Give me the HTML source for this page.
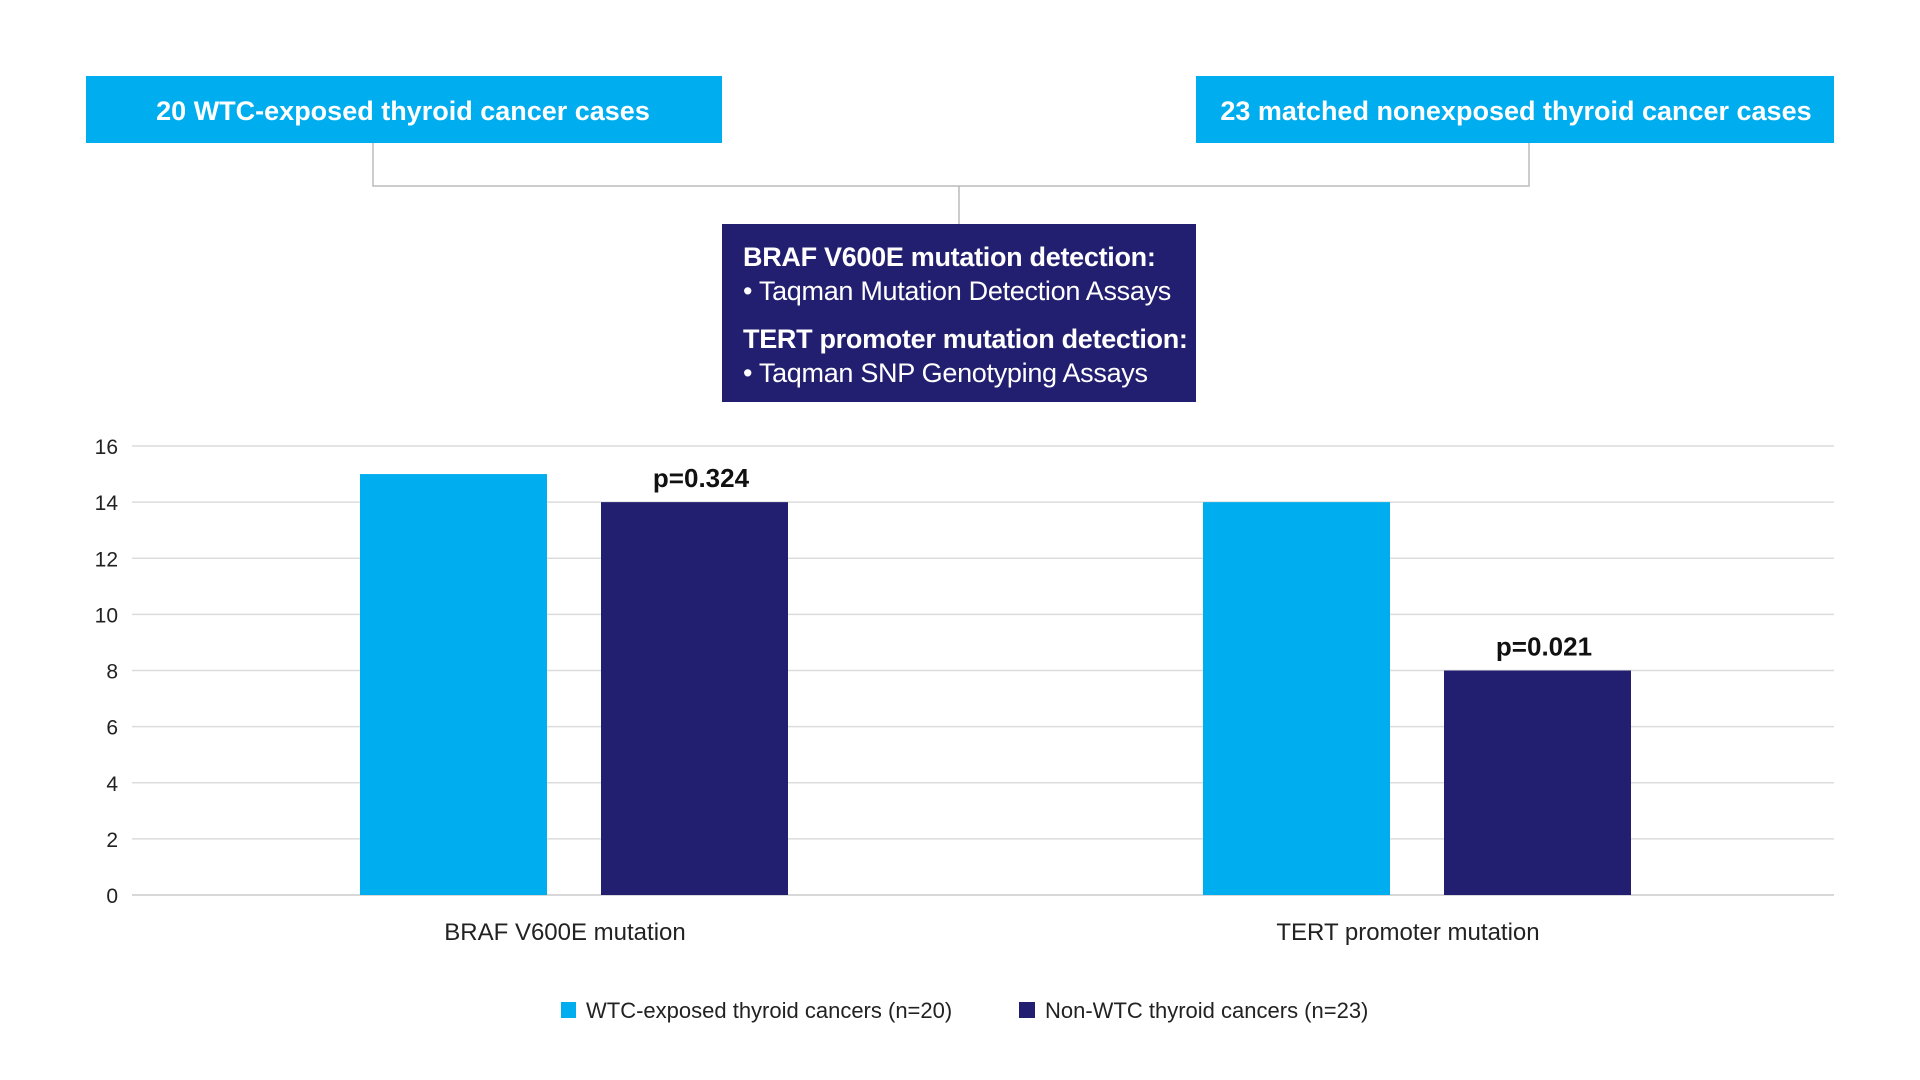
<!DOCTYPE html>
<html><head><meta charset="utf-8"><style>
html,body{margin:0;padding:0;background:#fff;}
svg{display:block;font-family:"Liberation Sans",sans-serif;}
</style></head><body>
<svg id="c" width="1920" height="1080" viewBox="0 0 1920 1080">
<g>
<rect x="86" y="76" width="636" height="67" fill="#00AEEF"/>
<text x="403" y="120" text-anchor="middle" fill="#fff" font-size="27" font-weight="bold" letter-spacing="0">20 WTC-exposed thyroid cancer cases</text>
<rect x="1196" y="76" width="638" height="67" fill="#00AEEF"/>
<text x="1516" y="120" text-anchor="middle" fill="#fff" font-size="27" font-weight="bold" letter-spacing="0">23 matched nonexposed thyroid cancer cases</text>
<path d="M373 143V186H1529V143M959 186V224" fill="none" stroke="#bbb" stroke-width="1.5"/>
<rect x="722" y="224" width="474" height="178" fill="#231F70"/>
<g fill="#fff" font-size="27" letter-spacing="-0.3">
<text x="743" y="266" font-weight="bold">BRAF V600E mutation detection:</text>
<text x="743" y="300">• Taqman Mutation Detection Assays</text>
<text x="743" y="348" font-weight="bold">TERT promoter mutation detection:</text>
<text x="743" y="382">• Taqman SNP Genotyping Assays</text>
</g>
</g>
<g id="grid"></g>
<g id="yt"></g>
<g id="bars"></g>
<g id="xl"></g>
<g>
<rect x="561" y="1002" width="15" height="16" fill="#00AEEF"/>
<text x="586" y="1018" font-size="22" fill="#222" letter-spacing="0">WTC-exposed thyroid cancers (n=20)</text>
<rect x="1019" y="1002" width="16" height="16" fill="#231F70"/>
<text x="1045" y="1018" font-size="22" fill="#222" letter-spacing="0">Non-WTC thyroid cancers (n=23)</text>
</g>
</svg>
<script>
const categories=["BRAF V600E mutation","TERT promoter mutation"];
const wtcValues=[15,14];
const nonWtcValues=[14,8];
const pLabels=["p=0.324","p=0.021"];
const yTicks=[0,2,4,6,8,10,12,14,16];
const NS="http://www.w3.org/2000/svg";
const y0=895,y1=446,yMax=16,left=132,right=1834;
const y=v=>y0-(v/yMax)*(y0-y1);
const groupCenters=[573,1416];
const cx=i=>groupCenters[0]+i*(groupCenters[1]-groupCenters[0]);
function mk(t,a,p){const e=document.createElementNS(NS,t);for(const k in a)e.setAttribute(k,a[k]);p.appendChild(e);return e;}
const grid=document.getElementById('grid'),yt=document.getElementById('yt'),bars=document.getElementById('bars'),xl=document.getElementById('xl');
yTicks.forEach(v=>{
 const l=mk('line',{x1:left,x2:right,y1:y(v),y2:y(v),stroke:v===0?'#ccc':'#dcdcdc','stroke-width':1.5},grid);
 
 
 const t=mk('text',{x:118,y:y(v)+8,'text-anchor':'end','font-size':21,fill:'#222'},yt);
 t.textContent=v;
 
 
});
categories.forEach((c,i)=>{
 const c0=cx(i);
 const b1=mk('rect',{x:c0-213,y:y(wtcValues[i]),width:187,height:y0-y(wtcValues[i]),fill:'#00AEEF'},bars);
 
 
 const b2=mk('rect',{x:c0+28,y:y(nonWtcValues[i]),width:187,height:y0-y(nonWtcValues[i]),fill:'#231F70'},bars);
 
 
 const p=mk('text',{x:c0+128,y:y(nonWtcValues[i])-15,'text-anchor':'middle','font-size':26,'font-weight':'bold',fill:'#111','letter-spacing':'0'},bars);
 p.textContent=pLabels[i];
 
 
 const t=mk('text',{x:c0-8,y:940,'text-anchor':'middle','font-size':24,fill:'#222','letter-spacing':'0'},xl);
 t.textContent=c;
 
 
});
</script>
</body></html>
